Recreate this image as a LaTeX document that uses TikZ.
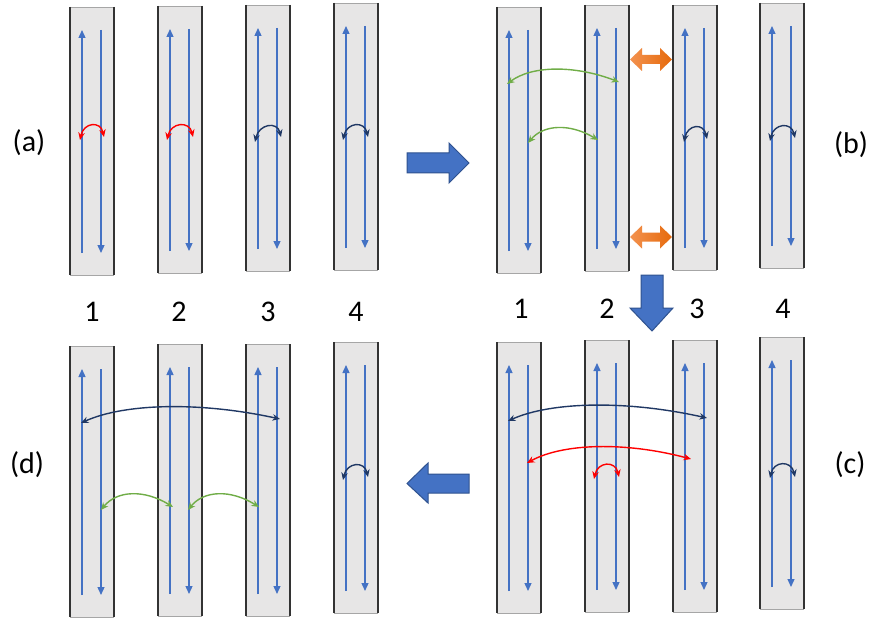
\documentclass[tikz,border=0pt]{standalone}
\usepackage{fontspec}
\setmainfont{Carlito}
\usetikzlibrary{arrows.meta,calc}
\definecolor{lanegray}{HTML}{E7E6E6}
\definecolor{laneblue}{HTML}{4472C4}
\definecolor{navy}{HTML}{203864}
\definecolor{leafgreen}{HTML}{70AD47}
\definecolor{bigblue}{HTML}{4472C4}
\definecolor{bigedge}{HTML}{2F528F}
\definecolor{orlight}{HTML}{F3924F}
\definecolor{ordark}{HTML}{E66A0C}
\tikzset{
  lanebox/.style={fill=lanegray, inner sep=0pt, outer sep=0pt, minimum width=44pt},
  darkedge/.style={line width=1.6pt, draw=black!80},
  thinedge/.style={line width=0.6pt, draw=black!35},
  lanearrow/.style={line width=1.3pt, laneblue, -{Triangle[length=8pt,width=7pt]}},
  humpline/.style={line width=1.4pt, {Stealth[length=7.5pt,width=6.5pt]}-{Stealth[length=7.5pt,width=6.5pt]}},
  bigarrow/.style={fill=bigblue, draw=bigedge, line width=1pt, line join=miter},
  orarrow/.style={left color=orlight, right color=ordark, draw=none},
  lbl/.style={font=\fontsize{30}{34}\selectfont, inner sep=0pt},
  num/.style={font=\fontsize{30}{34}\selectfont, inner sep=0pt}
}
% #1 name, #2 left x, #3 top y, #4 bottom y
\newcommand\lane[4]{%
  \node[lanebox, minimum height={#4-#3}] (#1) at ({#2+22},{(#3+#4)/2}) {};
  \draw[thinedge] (#1.north west) -- (#1.north east) (#1.south west) -- (#1.south east);
  \draw[darkedge] (#1.north west) -- (#1.south west) (#1.north east) -- (#1.south east);
  \coordinate (#1ub) at ({#2+12},{#4-22});
  \coordinate (#1ut) at ({#2+12},{#3+23});
  \coordinate (#1dt) at ({#2+31},{#3+23});
  \coordinate (#1db) at ({#2+31},{#4-22});
  \draw[lanearrow] (#1ub) -- (#1ut);
  \draw[lanearrow] (#1dt) -- (#1db);
}
% #1 style, #2 A, #3 B, #4 f1, #5 f2, #6 h
\newcommand\hump[6]{%
  \draw[humpline,#1] (#2) .. controls ($(#2)!#4!(#3)+(0,-#6)$) and ($(#2)!#5!(#3)+(0,-#6)$) .. (#3);
}
\begin{document}
\begin{tikzpicture}[x=1pt,y=-1pt]
\useasboundingbox (0,0) rectangle (873,623);
\fill[white] (0,0) rectangle (873,623);
% (a)
\lane{A1}{70}{7}{275}
\lane{A2}{158}{6}{273}
\lane{A3}{246}{5}{271}
\lane{A4}{334}{3}{270}
% (b)
\lane{B1}{497}{7}{273}
\lane{B2}{585}{5}{271}
\lane{B3}{673}{5}{270}
\lane{B4}{760}{3}{268}
% (d)
\lane{D1}{70}{346}{617}
\lane{D2}{158}{344}{616}
\lane{D3}{246}{344}{616}
\lane{D4}{334}{342}{613}
% (c)
\lane{C1}{497}{342}{613}
\lane{C2}{585}{340}{612}
\lane{C3}{673}{340}{612}
\lane{C4}{760}{337}{609}

% arc end points
\coordinate (a1l) at (80,140);  \coordinate (a1r) at (104,137);
\coordinate (a2l) at (167,140); \coordinate (a2r) at (193,137);
\coordinate (a3l) at (255,142); \coordinate (a3r) at (281,137);
\coordinate (a4l) at (343,140); \coordinate (a4r) at (368,137);
\coordinate (b1l) at (507,84);  \coordinate (b1r) at (619,82);
\coordinate (b2l) at (528,143); \coordinate (b2r) at (598,140);
\coordinate (b3l) at (684,142); \coordinate (b3r) at (707,139);
\coordinate (b4l) at (770,141); \coordinate (b4r) at (795,138);
\coordinate (d1l) at (81,423);  \coordinate (d1r) at (280,419);
\coordinate (d2l) at (101,510); \coordinate (d2r) at (173,507);
\coordinate (d3l) at (188,510); \coordinate (d3r) at (259,507);
\coordinate (d4l) at (343,480); \coordinate (d4r) at (368,477);
\coordinate (c1l) at (508,421); \coordinate (c1r) at (707,418);
\coordinate (c2l) at (527,463); \coordinate (c2r) at (691,459);
\coordinate (c3l) at (594,479); \coordinate (c3r) at (619,477);
\coordinate (c4l) at (770,478); \coordinate (c4r) at (795,477);

\hump{red}{a1l}{a1r}{0.15}{0.85}{17}
\hump{red}{a2l}{a2r}{0.15}{0.85}{17}
\hump{navy}{a3l}{a3r}{0.15}{0.85}{17}
\hump{navy}{a4l}{a4r}{0.15}{0.85}{17}
\hump{leafgreen}{b1l}{b1r}{0.22}{0.6}{18}
\hump{leafgreen}{b2l}{b2r}{0.22}{0.6}{18}
\hump{navy}{b3l}{b3r}{0.15}{0.85}{17}
\hump{navy}{b4l}{b4r}{0.15}{0.85}{17}
\hump{navy}{d1l}{d1r}{0.22}{0.6}{19}
\hump{leafgreen}{d2l}{d2r}{0.22}{0.6}{19}
\hump{leafgreen}{d3l}{d3r}{0.22}{0.6}{19}
\hump{navy}{d4l}{d4r}{0.15}{0.85}{17}
\hump{navy}{c1l}{c1r}{0.22}{0.6}{19}
\hump{red}{c2l}{c2r}{0.22}{0.6}{19}
\hump{red}{c3l}{c3r}{0.15}{0.85}{17}
\hump{navy}{c4l}{c4r}{0.15}{0.85}{17}

% orange double arrows
\foreach \yc in {59.5,237} {
  \shade[orarrow] (630,\yc) -- (642,\yc-11.5) -- (642,\yc-4.5) -- (660,\yc-4.5) -- (660,\yc-11.5)
    -- (672,\yc) -- (660,\yc+11.5) -- (660,\yc+4.5) -- (642,\yc+4.5) -- (642,\yc+11.5) -- cycle;
}
% big arrows
\draw[bigarrow] (407,153) -- (449,153) -- (449,143) -- (469,163) -- (449,183) -- (449,173) -- (407,173) -- cycle;
\draw[bigarrow] (641,275) -- (663,275) -- (663,308) -- (673,308) -- (652,331) -- (630,308) -- (641,308) -- cycle;
\draw[bigarrow] (469,474) -- (428,474) -- (428,463) -- (407,483.5) -- (428,503) -- (428,493) -- (469,493) -- cycle;

% labels
\node[lbl] (la) at (29,143) {(a)};
\node[lbl] (lb) at (851,145) {(b)};
\node[lbl] (lc) at (850,465) {(c)};
\node[lbl] (ld) at (27,465) {(d)};
\node[num] (n1) at (92,312) {1};
\node[num] (n2) at (179,312) {2};
\node[num] (n3) at (268,312) {3};
\node[num] (n4) at (356,312) {4};
\node[num] (m1) at (521,309) {1};
\node[num] (m2) at (607,309) {2};
\node[num] (m3) at (697,309) {3};
\node[num] (m4) at (783,309) {4};
\end{tikzpicture}
\end{document}
